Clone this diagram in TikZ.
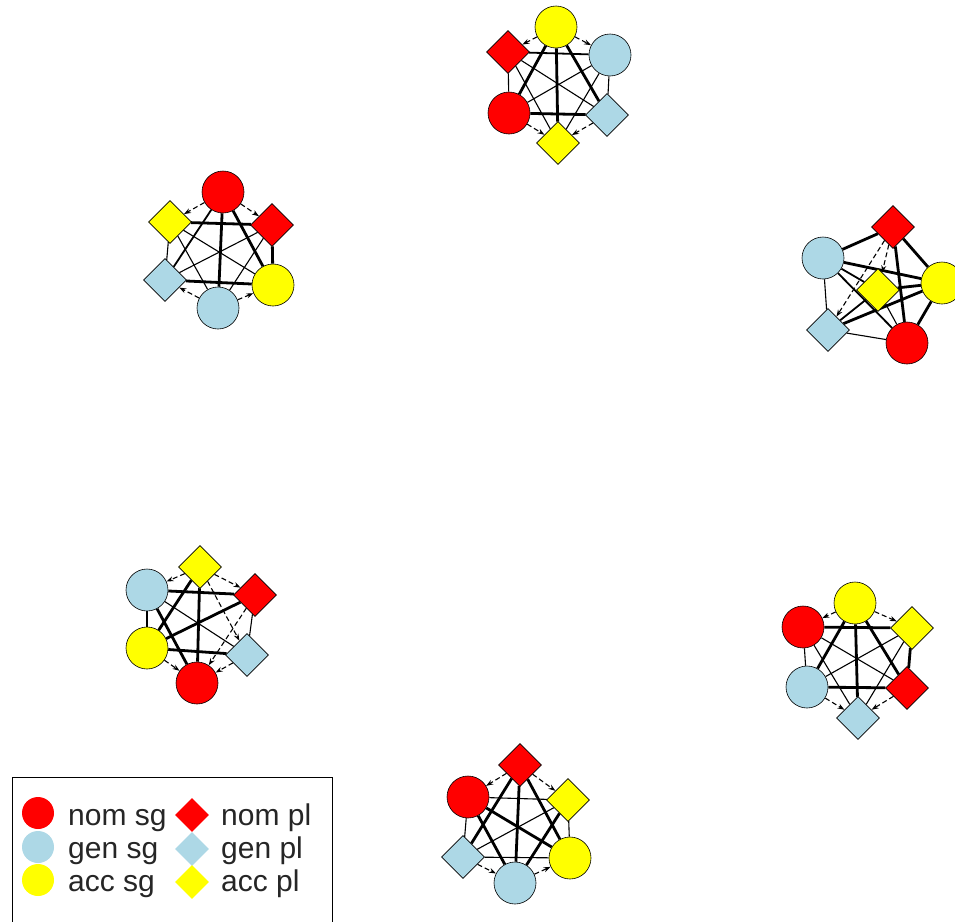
\documentclass[tikz,border=0pt]{standalone}
\usepackage{fontspec}
\setmainfont{Liberation Sans}
\usetikzlibrary{shapes.geometric,arrows.meta,backgrounds}

\definecolor{rred}{HTML}{FF0000}
\definecolor{lblue}{HTML}{ADD8E6}
\definecolor{yyellow}{HTML}{FFFF00}

\tikzset{
  sgnode/.style={circle, draw=black, line width=0.6pt, minimum size=42pt, inner sep=0pt},
  plnode/.style={diamond, draw=black, line width=0.6pt, minimum size=43pt, inner sep=0pt},
  nomfill/.style={fill=rred},
  genfill/.style={fill=lblue},
  accfill/.style={fill=yyellow},
  edgethick/.style={line width=2.8pt},
  edgemed/.style={line width=1.8pt},
  edgethin/.style={line width=1.1pt},
  edgefaint/.style={line width=1.1pt, dash pattern=on 5pt off 3pt, -{Stealth[length=7pt,width=5pt]}},
  keycirc/.style={circle, minimum size=32pt, inner sep=0pt},
  keydiam/.style={diamond, minimum size=34pt, inner sep=0pt},
  keytext/.style={anchor=base west, inner sep=0pt, font=\fontsize{30}{36}\selectfont, text=black!85},
}

% one case-form cluster: prefix, then centres of nom sg, nom pl, gen sg, gen pl, acc sg, acc pl
\newcommand{\caseclust}[7]{%
  \node[sgnode, nomfill] (#1-ns) at (#2) {};
  \node[plnode, nomfill] (#1-np) at (#3) {};
  \node[sgnode, genfill] (#1-gs) at (#4) {};
  \node[plnode, genfill] (#1-gp) at (#5) {};
  \node[sgnode, accfill] (#1-as) at (#6) {};
  \node[plnode, accfill] (#1-ap) at (#7) {};
}
% a set of links inside one cluster
\newcommand{\linkset}[3]{%
  \foreach \a/\b in {#3} {\draw[#2] (#1-\a) -- (#1-\b);}
}

\begin{document}
\begin{tikzpicture}[x=1pt, y=1pt]
\useasboundingbox (0,0) rectangle (955,-921);

% clusters
\caseclust{c1}{509,-113}{508,-52}{610,-55}{607,-115}{556,-27}{558,-143}
\caseclust{c2}{223,-192}{272,-225}{218,-308}{165,-280}{273,-285}{170,-222}
\caseclust{c3}{907,-343}{893,-227}{823,-258}{828,-330}{942,-283}{878,-290}
\caseclust{c4}{197,-683}{255,-595}{147,-590}{247,-655}{147,-648}{200,-567}
\caseclust{c5}{803,-627}{907,-688}{807,-687}{858,-718}{855,-603}{912,-628}
\caseclust{c6}{468,-797}{520,-765}{515,-883}{463,-857}{570,-858}{568,-800}

\begin{pgfonlayer}{background}
  \fill[white] (0,0) rectangle (955,-921);
  % top
  \linkset{c1}{edgethick}{as/ap, as/ns, as/gp, ns/gp}
  \linkset{c1}{edgemed}{np/gs}
  \linkset{c1}{edgethin}{np/ns, gs/gp, np/gp, gs/ns, gs/ap, np/ap}
  \linkset{c1}{edgefaint}{as/np, as/gs, ns/ap, gp/ap}
  % upper left
  \linkset{c2}{edgethick}{ns/gs, ap/np, gp/as, np/as, ns/as}
  \linkset{c2}{edgemed}{ns/gp}
  \linkset{c2}{edgethin}{ap/gp, ap/as, np/gs, np/gp, ap/gs}
  \linkset{c2}{edgefaint}{ns/ap, ns/np, gs/gp, gs/as}
  % right
  \linkset{c3}{edgethick}{gs/np, np/as, as/ns, gs/as, gp/as, np/ns, ap/as}
  \linkset{c3}{edgemed}{gs/ns, gp/ap, gs/ap}
  \linkset{c3}{edgethin}{gs/gp, gp/ns, ap/ns}
  \linkset{c3}{edgefaint}{np/gp, np/ap}
  % lower left
  \linkset{c4}{edgethick}{gs/np, ap/ns, as/gp, gs/as, gs/ns, ap/as, np/as}
  \linkset{c4}{edgethin}{np/gp, gs/gp}
  \linkset{c4}{edgefaint}{ap/np, ap/gs, as/ns, gp/ns, ap/gp, np/ns}
  % lower right
  \linkset{c5}{edgethick}{ns/ap, as/gp, gs/np, ap/np, as/gs, as/np}
  \linkset{c5}{edgethin}{ns/gs, ns/np, ap/gs, ap/gp, ns/gp}
  \linkset{c5}{edgefaint}{as/ns, as/ap, gs/gp, np/gp}
  % bottom
  \linkset{c6}{edgethick}{np/gs, np/gp, np/as, ns/as, ap/gs, ns/gs}
  \linkset{c6}{edgethin}{ns/ap, gp/as, ns/gp, ap/as, ap/gp}
  \linkset{c6}{edgefaint}{np/ns, np/ap, gp/gs, gs/as}
\end{pgfonlayer}

% legend
\draw[line width=1pt, fill=white] (12,-777) coordinate (lg-tl) rectangle (332,-940) coordinate (lg-br);
\node[keycirc, fill=rred]  (lg-ns) at (38,-813) {};
\node[keycirc, fill=lblue] (lg-gs) at (38,-847) {};
\node[keycirc, fill=yyellow] (lg-as) at (38,-880) {};
\node[keydiam, fill=rred]  (lg-np) at (192,-815) {};
\node[keydiam, fill=lblue] (lg-gp) at (192,-849) {};
\node[keydiam, fill=yyellow] (lg-ap) at (192,-882) {};
\node[keytext] (lt-ns) at (68,-825) {nom sg};
\node[keytext] (lt-gs) at (68,-858) {gen sg};
\node[keytext] (lt-as) at (68,-891) {acc sg};
\node[keytext] (lt-np) at (221,-825) {nom pl};
\node[keytext] (lt-gp) at (221,-858) {gen pl};
\node[keytext] (lt-ap) at (221,-891) {acc pl};
\end{tikzpicture}
\end{document}
